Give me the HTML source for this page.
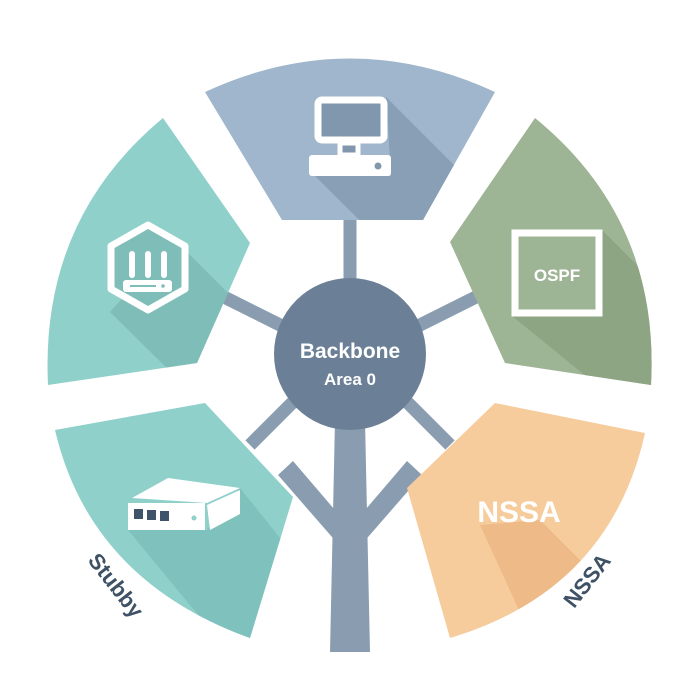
<!DOCTYPE html>
<html><head><meta charset="utf-8"><style>
html,body{margin:0;padding:0;background:#fff}
svg{display:block}
text{font-family:"Liberation Sans",sans-serif;font-weight:bold}
</style></head><body>
<svg width="700" height="700" viewBox="0 0 700 700" xmlns="http://www.w3.org/2000/svg">
<defs>
<clipPath id="cTop"><path d="M205,92 Q350,25 495,92 L423,220 L282,220 Z"/></clipPath>
<clipPath id="cTL"><path d="M163,118 L250,243 L197,363 L48,385 Q40,220 163,118 Z"/></clipPath>
<clipPath id="cTR"><path d="M535,118 L450,242 L505,363 L651,385 Q660,220 535,118 Z"/></clipPath>
<clipPath id="cBL"><path d="M55,430 L205,403 L293,497 L250,638 Q90,580 55,430 Z"/></clipPath>
<clipPath id="cBR"><path d="M495,403 L645,433 Q610,590 450,638 L407,488 Z"/></clipPath>
</defs>
<g stroke="#8a9db0" stroke-width="13" stroke-linecap="butt">
<line x1="350" y1="210" x2="350" y2="290"/>
<line x1="220" y1="295" x2="290" y2="330"/>
<line x1="480" y1="295" x2="410" y2="330"/>
<line x1="250" y1="445" x2="300" y2="395"/>
<line x1="450" y1="445" x2="400" y2="395"/>
</g>
<g fill="#8a9db0">
<path d="M335,420 L365,420 L370,652 L330,652 Z"/>
<path d="M278,475 L293,461 L352,530 L352,560 Z"/>
<path d="M422,475 L407,461 L348,530 L348,560 Z"/>
</g>
<path d="M205,92 Q350,25 495,92 L423,220 L282,220 Z" fill="#9fb6cc"/>
<path d="M163,118 L250,243 L197,363 L48,385 Q40,220 163,118 Z" fill="#8fd0cb"/>
<path d="M535,118 L450,242 L505,363 L651,385 Q660,220 535,118 Z" fill="#9eb595"/>
<path d="M55,430 L205,403 L293,497 L250,638 Q90,580 55,430 Z" fill="#8fd0cb"/>
<path d="M495,403 L645,433 Q610,590 450,638 L407,488 Z" fill="#f6cc9c"/>
<g clip-path="url(#cTop)"><path d="M386,97 L520,231 L440,300 L315,176 L391,176 Z" fill="#889fb5"/></g>
<g clip-path="url(#cTL)"><path d="M175,240 L320,385 L240,440 L110,312 Z" fill="#7fbeb8"/></g>
<g clip-path="url(#cTR)"><path d="M602,230 L720,348 L640,420 L512,316 L602,316 Z" fill="#8ea584"/></g>
<g clip-path="url(#cBL)"><path d="M240,488 L330,600 L260,690 L128,530 L207,530 Z" fill="#7fc2bd"/></g>
<g clip-path="url(#cBR)"><path d="M540,520 L640,620 L560,700 L480,525 Z" fill="#eebb88"/></g>
<circle cx="350" cy="354" r="76" fill="#6b8096"/>
<text x="350" y="358" font-size="21" fill="#fff" text-anchor="middle">Backbone</text>
<text x="350" y="385" font-size="17" fill="#fff" text-anchor="middle">Area 0</text>
<rect x="318" y="100" width="66" height="40" rx="4" fill="#8097ad" stroke="#fff" stroke-width="7"/>
<rect x="340" y="143" width="18" height="12" fill="#8097ad" stroke="#fff" stroke-width="5"/>
<rect x="309" y="155" width="82" height="21" rx="3" fill="#fff"/>
<circle cx="378" cy="166" r="3.5" fill="#8097ad"/>
<path d="M148,225 L185,246 L185,289 L148,310 L111,289 L111,246 Z" fill="#7fbeb8" stroke="#fff" stroke-width="7" stroke-linejoin="round"/>
<g fill="#fff">
<rect x="129" y="251" width="6" height="27" rx="3"/>
<rect x="145" y="251" width="6" height="27" rx="3"/>
<rect x="161" y="251" width="6" height="27" rx="3"/>
<rect x="123" y="280" width="49" height="12" rx="3"/>
</g>
<rect x="130" y="285" width="26" height="2" fill="#7fbeb8"/>
<circle cx="163" cy="286" r="1.8" fill="#7fbeb8"/>
<rect x="515" y="233" width="84" height="80" fill="#9eb595" stroke="#fff" stroke-width="7"/>
<text x="557" y="281" font-size="17" fill="#fff" text-anchor="middle">OSPF</text>
<path d="M132,498 L168,478 L240,488 L207,503 Z" fill="#fff"/>
<path d="M207,505 L240,490 L240,514 L210,530 Z" fill="#fff"/>
<rect x="128" y="503" width="77" height="27" fill="#fff"/>
<g fill="#3f5468"><rect x="134" y="509" width="9" height="10"/><rect x="147" y="510" width="9" height="10"/><rect x="160" y="511" width="9" height="10"/></g>
<circle cx="194" cy="518" r="2.5" fill="#8fd0cb"/>
<text x="519" y="522" font-size="30" fill="#fff" text-anchor="middle">NSSA</text>
<text transform="translate(110,590) rotate(52)" font-size="22" fill="#3e5165" text-anchor="middle">Stubby</text>
<text transform="translate(593,585) rotate(-52)" font-size="22" fill="#3e5165" text-anchor="middle">NSSA</text>
</svg>
</body></html>
